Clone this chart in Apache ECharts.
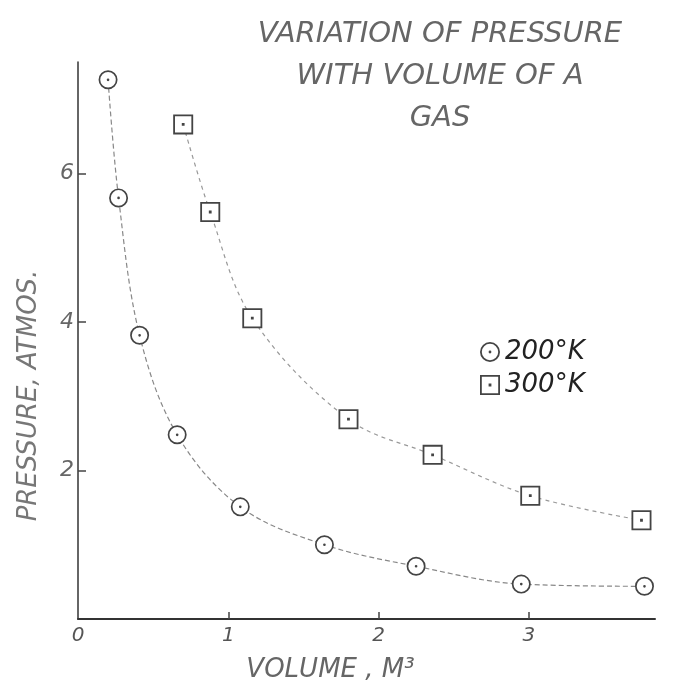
<!DOCTYPE html>
<html>
<head>
<meta charset="utf-8">
<script src="https://cdn.jsdelivr.net/npm/echarts@6/dist/echarts.min.js"></script>
<style>html,body{margin:0;padding:0;background:#fff}#c{width:675px;height:691px}</style>
</head>
<body>
<div id="c"></div>
<script>
// Data
const vol200 = [0.20, 0.27, 0.41, 0.66, 1.08, 1.64, 2.25, 2.95, 3.77];
const p200   = [7.26, 5.67, 3.82, 2.48, 1.51, 1.00, 0.71, 0.47, 0.44];
const vol300 = [0.70, 0.88, 1.16, 1.80, 2.36, 3.01, 3.75];
const p300   = [6.66, 5.48, 4.05, 2.69, 2.21, 1.66, 1.33];
const xTicks = [0, 1, 2, 3];
const yTicks = [2, 4, 6];
const seriesNames = ['200°K', '300°K'];

const ringDot = 'path://M50 0 A50 50 0 1 1 50 100 A50 50 0 1 1 50 0 Z M50 9 A41 41 0 1 0 50 91 A41 41 0 1 0 50 9 Z M50 43 A7 7 0 1 1 50 57 A7 7 0 1 1 50 43 Z';
const boxDot = 'path://M0 0 H100 V100 H0 Z M9 9 V91 H91 V9 Z M43 43 H57 V57 H43 Z';

const pairs = (xs, ys) => xs.map((x, i) => [x, ys[i]]);
const hand = 'DejaVu Sans';

const chart = echarts.init(document.getElementById('c'));
chart.setOption({
  backgroundColor: '#ffffff',
  animation: false,
  title: {
    text: 'VARIATION OF PRESSURE\nWITH VOLUME OF A\nGAS',
    left: 435, top: 8, textAlign: 'center',
    textStyle: { fontFamily: hand, fontSize: 29, fontStyle: 'italic', fontWeight: 'lighter', color: '#666', lineHeight: 42 }
  },
  legend: {
    orient: 'vertical', left: 475, top: 334, itemWidth: 20, itemHeight: 20, itemGap: 7,
    textStyle: { fontFamily: hand, fontSize: 26, fontStyle: 'italic', color: '#222' },
    data: [{ name: seriesNames[0], icon: ringDot }, { name: seriesNames[1], icon: boxDot }]
  },
  grid: { left: 78, right: 20, top: 62, bottom: 72, containLabel: false },
  xAxis: {
    type: 'value', min: 0, max: 3.84, interval: 1,
    name: 'VOLUME , M³', nameLocation: 'middle', nameGap: 38,
    nameTextStyle: { fontFamily: hand, fontSize: 26, fontStyle: 'italic', color: '#666', padding: [0, 72, 0, 0] },
    axisLine: { lineStyle: { color: '#333', width: 2 } },
    axisTick: { inside: true, length: 7, customValues: [1, 2, 3], lineStyle: { color: '#444', width: 1.5 } },
    axisLabel: { customValues: xTicks, fontFamily: hand, fontSize: 20, fontStyle: 'italic', color: '#555', margin: 7 },
    splitLine: { show: false }
  },
  yAxis: {
    type: 'value', min: 0, max: 7.5, interval: 2,
    name: 'PRESSURE, ATMOS.', nameLocation: 'middle', nameGap: 36, nameRotate: 90,
    nameTextStyle: { fontFamily: hand, fontSize: 26, fontStyle: 'italic', fontWeight: 'lighter', color: '#777', padding: [0, 110, 0, 0] },
    axisLine: { lineStyle: { color: '#333', width: 1.5 } },
    axisTick: { inside: true, length: 8, customValues: yTicks, lineStyle: { color: '#444', width: 1.5 } },
    axisLabel: { customValues: yTicks, fontFamily: hand, fontSize: 22, fontStyle: 'italic', color: '#666', margin: 4 },
    splitLine: { show: false }
  },
  series: [
    {
      name: 'curve200', type: 'line', smooth: 0.35, data: pairs(vol200, p200),
      symbol: 'none', z: 2,
      lineStyle: { color: '#888', width: 1.2, type: [5, 3] }
    },
    {
      name: 'curve300', type: 'line', smooth: 0.35, data: pairs(vol300, p300),
      symbol: 'none', z: 2,
      lineStyle: { color: '#999', width: 1.2, type: [4, 4] }
    },
    {
      name: 'fill200', type: 'scatter', data: pairs(vol200, p200), z: 3,
      symbol: 'circle', symbolSize: 17, itemStyle: { color: '#fff', opacity: 1 }, silent: true
    },
    {
      name: 'fill300', type: 'scatter', data: pairs(vol300, p300), z: 3,
      symbol: 'rect', symbolSize: 18, itemStyle: { color: '#fff', opacity: 1 }, silent: true
    },
    {
      name: seriesNames[0], type: 'scatter', data: pairs(vol200, p200), z: 4,
      symbol: ringDot, symbolSize: 19, itemStyle: { color: '#444', opacity: 1 }
    },
    {
      name: seriesNames[1], type: 'scatter', data: pairs(vol300, p300), z: 4,
      symbol: boxDot, symbolSize: 20, itemStyle: { color: '#444', opacity: 1 }
    }
  ]
});
</script>
</body>
</html>
